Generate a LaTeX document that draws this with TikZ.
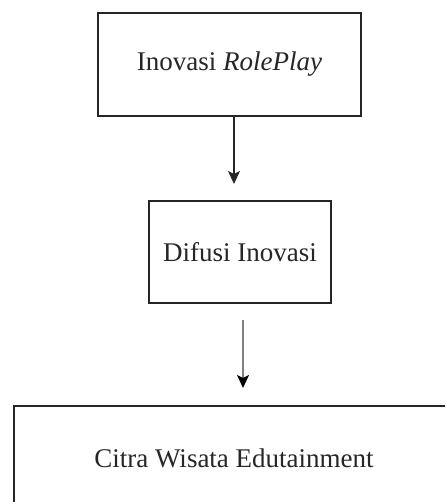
\documentclass[tikz,border=0pt]{standalone}
\usepackage{fontspec}
\setmainfont{Liberation Serif}
\usetikzlibrary{arrows.meta}
\begin{document}
\begin{tikzpicture}[x=1pt,y=-1pt,
  boxstyle/.style={draw=black!85, line width=1.6pt, inner sep=0pt, font=\fontsize{27}{32}\selectfont, text=black!85},
  arrowstyle/.style={line width=1.6pt, -{Stealth[length=13pt,width=12pt,inset=3pt]}}]
\useasboundingbox (0,0) rectangle (445,502);
\clip (0,0) rectangle (445,502);
\node[boxstyle, minimum width=263pt, minimum height=103pt] (b1) at (229.5,64.5) {Inovasi \textit{RolePlay}};
\node[boxstyle, minimum width=182pt, minimum height=102pt] (b2) at (240,252) {Difusi Inovasi};
\node[boxstyle, minimum width=440pt, minimum height=104pt] (b3) at (234,458) {Citra Wisata Edutainment};
\coordinate (a1s) at (234,116);
\coordinate (a1e) at (234,184);
\coordinate (a2s) at (243,320);
\coordinate (a2e) at (243,388);
\draw[arrowstyle, black!85] (a1s) -- (a1e);
\draw[arrowstyle, draw=gray, -{Stealth[length=13pt,width=12pt,inset=3pt,black]}] (a2s) -- (a2e);
\end{tikzpicture}
\end{document}
